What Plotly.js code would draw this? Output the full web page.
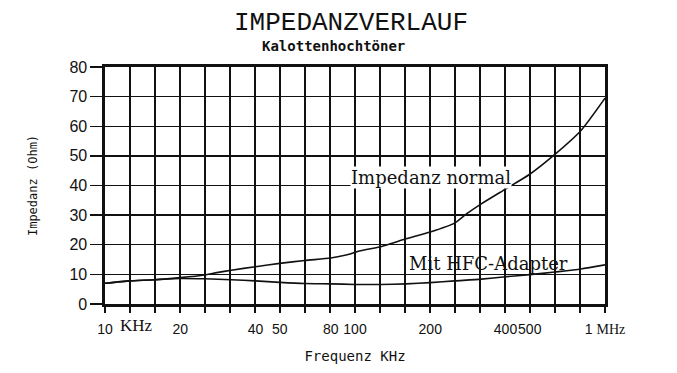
<!DOCTYPE html>
<html>
<head>
<meta charset="utf-8">
<script src="https://cdn.plot.ly/plotly-3.0.1.min.js"></script>
<style>html,body{margin:0;padding:0;background:#fff;}#chart{width:677px;height:373px;}</style>
</head>
<body>
<div id="chart"></div>
<script>
// Frequencies in kHz
const freqNormal = [10, 12.6, 15.8, 20, 25, 28, 32, 40, 50, 63, 80, 93, 104, 128, 142, 160, 200, 250, 280, 320, 400, 500, 630, 800, 1000];
const impNormal  = [7.0, 7.8, 8.2, 8.9, 9.8, 10.6, 11.4, 12.6, 13.7, 14.7, 15.5, 16.6, 17.9, 19.4, 20.6, 22.0, 24.3, 27.3, 30.5, 33.8, 38.8, 43.8, 50.5, 58.5, 69.5];
const freqAdapter = [10, 12.6, 15.8, 20, 25, 32, 40, 50, 63, 80, 100, 126, 160, 200, 250, 320, 400, 500, 630, 800, 1000];
const impAdapter  = [7.0, 7.8, 8.2, 8.6, 8.5, 8.2, 7.8, 7.3, 6.9, 6.8, 6.6, 6.6, 6.8, 7.2, 7.8, 8.4, 9.2, 9.9, 10.8, 11.8, 13.2];
const xTickVals = [10, 20, 40, 50, 80, 100, 200, 400, 500, 1000];
const xTickText = ['10', '20', '40', '50', '80', '100', '200', '400', '500', '1 <span style="font-family:Liberation Serif">MHz</span>'];
const yTickVals = [0, 10, 20, 30, 40, 50, 60, 70, 80];

const lineStyle = {color: '#111', width: 1.6, shape: 'spline', smoothing: 0.6};
const traces = [
  {x: freqNormal, y: impNormal, type: 'scatter', mode: 'lines', line: lineStyle, name: 'Impedanz normal', xaxis: 'x', yaxis: 'y'},
  {x: freqAdapter, y: impAdapter, type: 'scatter', mode: 'lines', line: lineStyle, name: 'Mit HFC-Adapter', xaxis: 'x', yaxis: 'y'},
  {x: [10, 1000], y: [null, null], type: 'scatter', mode: 'lines', xaxis: 'x2', yaxis: 'y', showlegend: false, hoverinfo: 'skip'}
];

const layout = {
  width: 677, height: 373,
  margin: {l: 105, r: 72, t: 67, b: 69},
  paper_bgcolor: '#fff', plot_bgcolor: '#fff',
  showlegend: false,
  font: {family: 'Liberation Sans, Arial, sans-serif', color: '#111'},
  title: {
    text: 'IMPEDANZVERLAUF',
    font: {family: 'Liberation Mono, monospace', size: 26, color: '#111'},
    xref: 'paper', x: 0.492, xanchor: 'center',
    yref: 'container', y: 1 - 21/373, yanchor: 'middle'
  },
  xaxis: {
    type: 'log', range: [1, 3],
    tick0: 1, dtick: 0.1,
    showticklabels: false,
    ticks: 'outside', ticklen: 6, tickwidth: 1.3, tickcolor: '#111',
    showgrid: true, gridcolor: '#111', gridwidth: 1.3,
    showline: true, linecolor: '#111', linewidth: 2.6, mirror: true,
    zeroline: false,
    title: {text: 'Frequenz KHz', font: {family: 'DejaVu Sans Mono, monospace', size: 14, color: '#111'}, standoff: 40}
  },
  xaxis2: {
    type: 'log', range: [1, 3], overlaying: 'x', anchor: 'y', side: 'bottom',
    tickmode: 'array', tickvals: xTickVals, ticktext: xTickText, tickangle: 0,
    ticks: 'outside', ticklen: 12, tickcolor: 'rgba(0,0,0,0)',
    tickfont: {family: 'Liberation Sans, Arial, sans-serif', size: 14, color: '#111'},
    showgrid: false, showline: false, zeroline: false
  },
  yaxis: {
    range: [0, 80], tickmode: 'array', tickvals: yTickVals,
    ticks: 'outside', ticklen: 12, tickwidth: 1.3, tickcolor: '#111',
    tickfont: {family: 'Liberation Sans, Arial, sans-serif', size: 16, color: '#111'},
    showgrid: true, gridcolor: '#111', gridwidth: 1.3,
    showline: true, linecolor: '#111', linewidth: 2.6, mirror: true,
    zeroline: false,
    title: {text: 'Impedanz (Ohm)', font: {family: 'DejaVu Sans Mono, monospace', size: 12, color: '#111'}, standoff: 30}
  },
  annotations: [
    {text: 'Kalottenhochtöner', xref: 'paper', yref: 'paper', x: 0.456, y: 1 + (67 - 46) / 237, xanchor: 'center', yanchor: 'middle', showarrow: false,
     font: {family: 'DejaVu Sans Mono, monospace', size: 14, color: '#111', weight: 'bold'}},
    {text: 'KHz', xref: 'paper', yref: 'paper', x: 0.026, y: -0.09, xanchor: 'left', yanchor: 'middle', showarrow: false,
     font: {family: 'Liberation Serif, serif', size: 17, color: '#111'}},
    {text: 'Impedanz normal', xref: 'x', yref: 'y', x: 1.98, y: 42.6, xanchor: 'left', yanchor: 'middle', showarrow: false,
     bgcolor: '#fff', borderpad: 0,
     font: {family: 'DejaVu Serif, serif', size: 18, color: '#111'}},
    {text: 'Mit HFC-Adapter', xref: 'x', yref: 'y', x: 2.208, y: 13.8, xanchor: 'left', yanchor: 'middle', showarrow: false,
     font: {family: 'DejaVu Serif, serif', size: 18, color: '#111'}}
  ]
};

Plotly.newPlot('chart', traces, layout, {displayModeBar: false, staticPlot: true});
</script>
</body>
</html>
